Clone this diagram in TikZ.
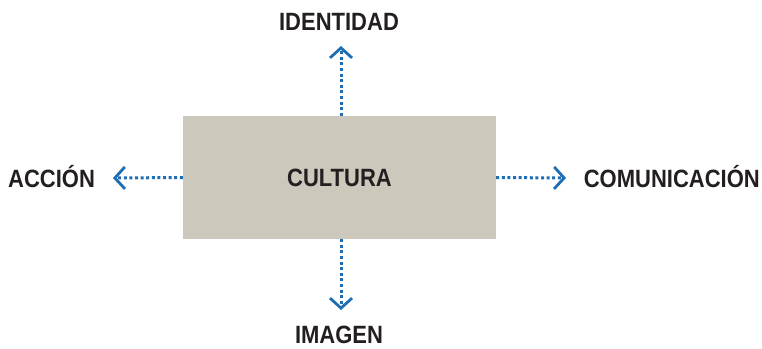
\documentclass[tikz,border=0pt]{standalone}
\usepackage{fontspec}
\setmainfont{Liberation Sans}[FakeStretch=0.88]
\usetikzlibrary{arrows.meta}
\definecolor{boxgray}{HTML}{CCC8BC}
\definecolor{arrblue}{HTML}{1F6DB3}
\definecolor{txt}{HTML}{231F20}
\tikzset{
  lbl/.style={text=txt, font=\fontsize{25}{28}\selectfont\bfseries, inner sep=0pt},
  conn/.style={draw=arrblue, line width=3pt, dash pattern=on 3pt off 2.6pt,
    -{Straight Barb[length=10pt, width=22pt, line width=2.8pt]}},
}
\begin{document}
\begin{tikzpicture}[x=1pt,y=-1pt]
\useasboundingbox (0,0) rectangle (762,348);
\node[fill=boxgray, minimum width=313pt, minimum height=123pt, inner sep=0pt, lbl] (box) at (339.5,177.5) {CULTURA};
\node[lbl, anchor=base] (ident) at (339,30) {IDENTIDAD};
\node[lbl, anchor=base west] (acc) at (8,187) {ACCIÓN};
\node[lbl, anchor=base east] (com) at (760,187) {COMUNICACIÓN};
\node[lbl, anchor=base] (img) at (339,343) {IMAGEN};
\coordinate (t) at (341,46);
\coordinate (b) at (341,310);
\coordinate (l) at (113,178);
\coordinate (r) at (566,178);
\draw[conn] (box.north -| t) -- (t);
\draw[conn] (box.south -| b) -- (b);
\draw[conn] (box.west) -- (l);
\draw[conn] (box.east) -- (r);
\end{tikzpicture}
\end{document}
